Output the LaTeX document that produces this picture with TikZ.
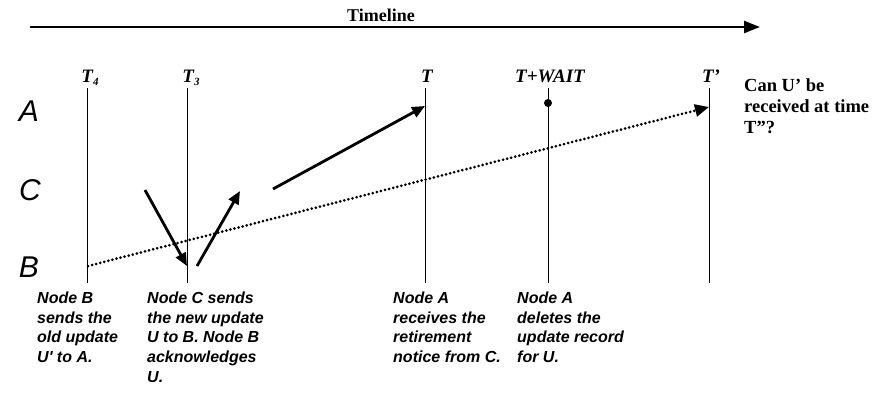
\documentclass[tikz,border=0pt]{standalone}
\usepackage{fontspec}
\setmainfont{Liberation Serif}
\newfontfamily\rowfont{Liberation Sans}
\usetikzlibrary{arrows.meta}
\begin{document}
\begin{tikzpicture}[x=1pt,y=-1pt,
  vline/.style={line width=0.9pt},
  tlabel/.style={font=\fontsize{19}{19}\selectfont\bfseries\itshape, inner sep=0pt, anchor=base},
  rowlabel/.style={font=\rowfont\fontsize{30}{30}\selectfont\itshape, inner sep=0pt},
  note/.style={font=\rowfont\fontsize{16}{19.6}\selectfont\bfseries\itshape, align=left, anchor=north west, inner sep=0pt},
  msg/.style={line width=2.8pt, -{Triangle[length=13pt,width=11pt]}},
  dotmsg/.style={line width=3pt, line cap=round, dash pattern=on 0pt off 4.2pt, -{Triangle[length=14pt,width=12pt]}},
]
\useasboundingbox (0,0) rectangle (873,410);
% timeline
\coordinate (tl0) at (30,27);
\coordinate (tl1) at (760,27);
\draw[line width=2.4pt, -{Triangle[length=16pt,width=12pt]}] (tl0) -- (tl1);
\node[font=\fontsize{18}{18}\selectfont\bfseries, inner sep=0pt, anchor=base] (tltext) at (381,21) {Timeline};
% vertical lines
\foreach \n/\x in {a/87,b/187,c/425,d/548,e/709}{
  \coordinate (\n top) at (\x,88);
  \coordinate (\n bot) at (\x,283);
  \draw[vline] (\n top) -- (\n bot);
}
\node[tlabel] (lt4) at (90,82) {T\raisebox{-0.35ex}{\fontsize{11}{11}\selectfont 4}};
\node[tlabel] (lt3) at (191,82) {T\raisebox{-0.35ex}{\fontsize{11}{11}\selectfont 3}};
\node[tlabel] (lt) at (427,82) {T};
\node[tlabel] (ltw) at (550,82) {T+WAIT};
\node[tlabel] (ltp) at (711,82) {T'};
% row labels
\node[rowlabel] (rA) at (29,111) {A};
\node[rowlabel] (rC) at (30,190) {C};
\node[rowlabel] (rB) at (29,267) {B};
% dot on T+WAIT
\fill (548,103) circle (4pt) node (wdot) {};
% messages
\coordinate (m1s) at (145,190);
\coordinate (m1e) at (187,266);
\draw[msg] (m1s) -- (m1e);
\coordinate (m2s) at (197,266);
\coordinate (m2e) at (240,191);
\draw[msg] (m2s) -- (m2e);
\coordinate (m3s) at (273,189);
\coordinate (m3e) at (425,106);
\draw[msg] (m3s) -- (m3e);
\coordinate (m4s) at (88,266);
\coordinate (m4e) at (709,107);
\draw[dotmsg] (m4s) -- (m4e);
% right question
\node[font=\fontsize{18.5}{21}\selectfont\bfseries, align=left, anchor=north west, inner sep=0pt] (q) at (744,78) {Can U' be\\received at time\\T''?};
% notes
\node[note] (n1) at (37,292) {Node B\\sends the\\old update\\U' to A.};
\node[note] (n2) at (147,292) {Node C sends\\the new update\\U to B. Node B\\acknowledges\\U.};
\node[note] (n3) at (393,292) {Node A\\receives the\\retirement\\notice from C.};
\node[note] (n4) at (517,292) {Node A\\deletes the\\update record\\for U.};
\end{tikzpicture}
\end{document}
